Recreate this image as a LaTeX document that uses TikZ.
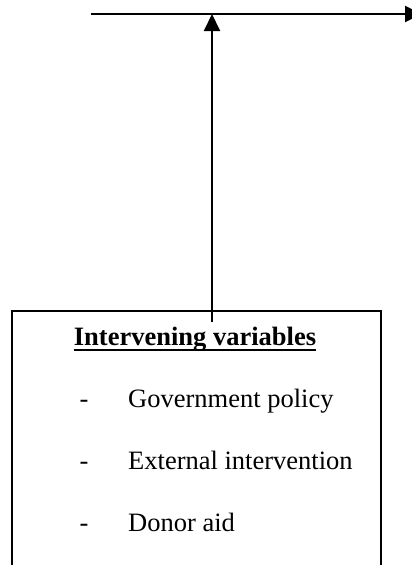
\documentclass[tikz,border=0pt]{standalone}
\usepackage{fontspec}
\setmainfont{Liberation Serif}
\usetikzlibrary{arrows.meta}

\begin{document}
\begin{tikzpicture}[x=1pt, y=-1pt]
		\tikzset{every node/.style={font=\fontsize{26.5}{32}\selectfont, inner sep=0pt}}
		\tikzset{link/.style={line width=2pt, -{Triangle[width=16pt,length=17pt]}}}
		\clip (0,0) rectangle (412,565);
		\node[draw, line width=2pt, minimum width=369pt, minimum height=280pt, anchor=north west] (box) at (11,310) {};
		\node[anchor=base] (title) at (195,345) {\textbf{Intervening variables}};
		\draw [line width=2pt] ([yshift=-4.5pt]title.base west) -- ([yshift=-4.5pt]title.base east);
		\node[anchor=base] (d1) at (84,407) {-};
		\node[anchor=base west] (policy) at (128,407) {Government policy};
		\node[anchor=base] (d2) at (84,469) {-};
		\node[anchor=base west] (external) at (128,469) {External intervention};
		\node[anchor=base] (d3) at (84,531) {-};
		\node[anchor=base west] (donor) at (128,531) {Donor aid};
		\coordinate (from) at (212,322);
		\coordinate (join) at (212,14);
		\coordinate (left) at (91,14);
		\coordinate (right) at (422,14);
		\draw [link] (left) -- (right);
		\draw [link] (from) -- (join);
	\end{tikzpicture}
\end{document}
